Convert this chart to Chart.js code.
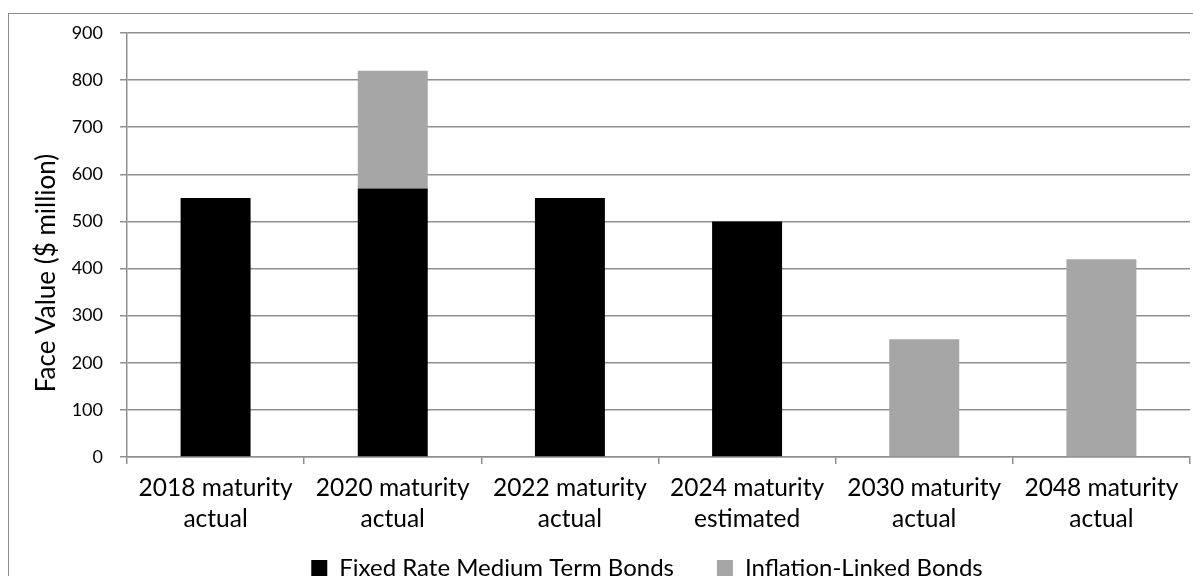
<!DOCTYPE html>
<html>
<head>
<meta charset="utf-8">
<script src="https://cdn.jsdelivr.net/npm/chart.js@4/dist/chart.umd.min.js"></script>
<style>
  html, body { margin: 0; padding: 0; background: #fff; overflow: hidden; width: 1193px; height: 576px; }
  #frame { position: absolute; left: 8px; top: 13px; width: 1400px; height: 800px; border: 1px solid #8a8a8a; box-sizing: border-box; }
  #wrap { position: absolute; left: 0; top: 0; width: 1193px; height: 590px; }
</style>
</head>
<body>
<div id="frame"></div>
<div id="wrap"><canvas id="chart"></canvas></div>
<script>
// Bond maturities and face values ($ million)
const categories = [
  ['2018 maturity', 'actual'],
  ['2020 maturity', 'actual'],
  ['2022 maturity', 'actual'],
  ['2024 maturity', 'estimated'],
  ['2030 maturity', 'actual'],
  ['2048 maturity', 'actual']
];
const fixedRateBonds = [550, 570, 550, 500, 0, 0];
const inflationLinkedBonds = [0, 250, 0, 0, 250, 420];
const yMin = 0, yMax = 900, yStep = 100;
const yAxisTitle = 'Face Value ($ million)';

const FONT = 'Lato, "Liberation Sans", sans-serif';
const GRID = '#8f8f8f';

// Let the axis labels use the full canvas width/height instead of the
// narrow boxes given to the axes, and draw the value-axis title.
const axisExtras = {
  id: 'axisExtras',
  afterLayout(chart) {
    chart.scales.y.left = 0;
    chart.scales.x.bottom = chart.height;
  },
  afterDraw(chart) {
    const ctx = chart.ctx;
    ctx.save();
    ctx.translate(47, 273);
    ctx.rotate(-Math.PI / 2);
    ctx.font = '26px ' + FONT;
    ctx.fillStyle = '#000';
    ctx.textAlign = 'center';
    ctx.textBaseline = 'middle';
    ctx.fillText(yAxisTitle, 0, 0);
    ctx.restore();
  }
};

new Chart(document.getElementById('chart'), {
  type: 'bar',
  data: {
    labels: categories,
    datasets: [
      { label: 'Fixed Rate Medium Term Bonds', data: fixedRateBonds, backgroundColor: '#000000' },
      { label: 'Inflation-Linked Bonds', data: inflationLinkedBonds, backgroundColor: '#a6a6a6' }
    ]
  },
  plugins: [axisExtras],
  options: {
    responsive: true,
    maintainAspectRatio: false,
    animation: false,
    layout: { padding: { left: 104, right: 3, top: 33, bottom: 0 } },
    datasets: { bar: { barPercentage: 1, categoryPercentage: 0.395 } },
    plugins: {
      tooltip: { enabled: false },
      legend: {
        position: 'bottom',
        labels: {
          color: '#000',
          font: { family: FONT, size: 24 },
          boxWidth: 16,
          boxHeight: 16,
          padding: 43
        }
      }
    },
    scales: {
      x: {
        stacked: true,
        afterFit: s => { s.height = 56; },
        grid: { offset: true, drawOnChartArea: false, color: GRID, lineWidth: 1.5, tickLength: 7 },
        border: { color: GRID, width: 1.5 },
        ticks: { color: '#000', font: { family: FONT, size: 24.5, lineHeight: 1.265 }, padding: 9, maxRotation: 0 }
      },
      y: {
        stacked: true,
        min: yMin,
        max: yMax,
        afterFit: s => { s.width = 23; },
        grid: { color: GRID, lineWidth: 1.5, tickLength: 7 },
        border: { color: GRID, width: 1.5 },
        ticks: { stepSize: yStep, color: '#000', font: { family: FONT, size: 18 }, padding: 17 }
      }
    }
  }
});
</script>
</body>
</html>
